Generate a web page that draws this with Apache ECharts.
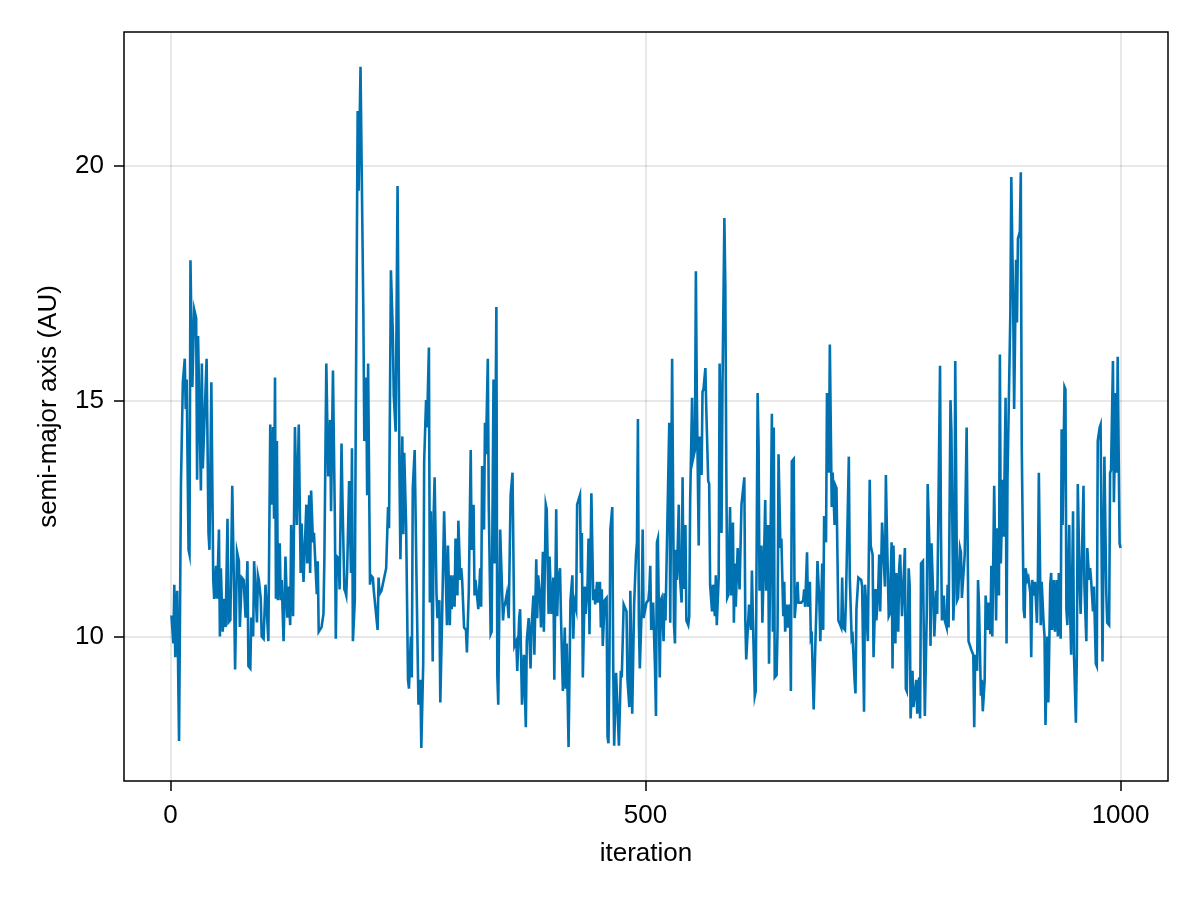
<!DOCTYPE html>
<html>
<head>
<meta charset="utf-8">
<script src="https://cdn.jsdelivr.net/npm/echarts@6/dist/echarts.min.js"></script>
<style>
  html, body { margin: 0; padding: 0; background: #ffffff; }
  #chart { width: 1200px; height: 900px; }
</style>
</head>
<body>
<div id="chart"></div>
<script>
// [iteration, semi-major axis (AU)]
const samples = [
  [1,10.45],[3,9.85],[4,11.1],[5,9.56],[7,10.97],[9,7.78],[10,7.78],[11,13.24],[12,13.28],[13,15.4],
  [15,15.9],[16,14.83],[17,15.46],[19,11.84],[20,11.74],[21,17.99],[23,15.3],[24,15.27],[25,16.94],[27,16.76],
  [28,13.33],[29,16.38],[31,16.38],[32,13.1],[33,15.8],[34,13.57],[38,15.9],[40,12.2],[41,11.84],[43,15.4],
  [45,11.2],[46,10.8],[48,11.5],[49,10.8],[51,12.27],[52,10.0],[53,11.45],[55,10.1],[56,10.8],[58,10.2],
  [60,12.5],[61,10.3],[63,10.35],[65,13.2],[67,10.8],[68,9.3],[70,11.8],[72,11.6],[73,10.2],[75,11.25],
  [77,11.2],[79,10.4],[81,11.6],[82,9.37],[84,9.32],[85,10.4],[87,10.0],[88,11.6],[90,11.6],[91,10.3],
  [92,11.3],[93,11.2],[95,10.8],[96,10.0],[98,9.95],[100,11.1],[102,11.1],[103,9.9],
  [105,14.5],[106,12.8],[108,14.45],[109,12.5],[110,15.5],[111,10.8],[112,14.15],[113,10.77],[115,11.98],[116,10.77],
  [117,11.2],[119,9.9],[120,10.7],[121,11.7],[123,10.4],[124,11.06],[126,10.24],[127,12.37],[129,10.43],[131,14.45],
  [133,12.37],[134,12.37],[135,14.5],[137,11.35],[138,12.4],[139,12.4],[140,11.16],[143,12.8],[144,11.55],[146,13.0],
  [147,11.35],[148,13.1],[150,12.0],[151,12.2],[153,12.2],[154,10.9],[155,11.6],[156,10.1],[158,10.1],[159,10.2],
  [161,10.48],[162,11.7],[164,15.8],[166,13.4],[168,14.6],[169,12.66],[171,15.65],[173,12.5],[174,9.95],[175,11.7],
  [177,11.65],[178,11.0],[180,14.1],[181,12.9],[183,11.0],[184,10.95],[185,10.87],[186,11.45],[188,13.3],[190,11.35],
  [191,14.0],[192,9.9],[194,10.77],[195,14.54],[197,21.16],[198,19.47],[200,22.1],
  [203,16.86],[204,14.15],[206,15.5],[207,13.0],[208,15.8],[210,11.1],[211,11.3],[213,11.25],[214,10.97],[216,11.0],
  [218,10.14],[219,11.25],[220,10.9],[222,10.97],[223,11.06],[225,11.1],[227,11.45],[229,12.75],[230,12.3],[232,17.78],
  [234,16.47],[235,15.12],[237,14.35],[238,14.35],[239,19.57],[241,13.5],[242,11.64],[244,14.25],[245,12.17],[246,13.9],
  [248,12.37],[250,9.08],[251,8.89],[253,10.0],[254,9.13],[255,13.14],[257,13.96],[259,11.16],[261,8.55],[263,9.08],
  [264,7.63],[266,9.42],[267,13.72],[269,15.02],[270,14.44],[272,16.14],[273,10.72],[274,12.66],[276,9.47],[277,12.6],
  [278,13.38],[280,10.9],[281,10.39],[283,10.77],[284,8.6],[286,10.53],[288,12.66],[290,12.66],[291,10.24],[292,11.93],
  [294,10.24],[295,11.3],[296,10.58],[298,11.3],[299,10.63],[300,12.08],[302,10.87],[303,12.46],[305,11.2],[306,11.45],
  [307,11.2],[309,10.19],[311,10.14],[312,9.66],[314,10.97],
  [316,13.96],[317,11.84],[319,12.8],[320,10.87],[321,11.2],[323,11.2],[324,10.58],[326,11.45],[327,10.63],[328,13.62],
  [330,12.27],[331,14.54],[332,13.87],[334,15.9],[335,12.8],[337,10.05],[338,10.1],[340,15.46],[341,11.55],[343,17.0],
  [344,9.18],[345,8.55],[347,12.27],[348,12.3],[350,10.34],[351,10.63],[352,10.68],[354,10.9],[356,10.39],[358,13.0],
  [360,13.48],[362,9.8],[364,9.9],[365,9.27],[367,10.39],[368,10.58],[370,8.55],[372,9.61],[374,8.07],[375,9.9],
  [377,10.39],[379,9.32],[380,10.2],[382,10.87],[383,9.61],[385,11.64],[386,10.39],[387,11.3],[389,10.82],[390,10.19],
  [392,11.8],[393,10.1],[395,12.8],[396,12.7],[398,10.48],[399,11.7],[401,10.48],[403,11.25],[404,9.08],[406,12.7],
  [407,10.43],[408,11.16],[410,11.45],[411,10.43],[413,8.84],[415,10.19],[416,8.89],[417,9.85],[419,7.65],
  [421,10.77],[423,11.3],[424,9.95],[425,10.77],[427,10.58],[428,12.8],[430,12.8],[431,13.0],[432,11.35],[433,12.2],
  [434,9.13],[436,11.06],[437,10.48],[439,11.1],[440,12.08],[441,10.05],[443,13.04],[445,10.77],[446,11.0],[447,10.68],
  [449,11.16],[450,10.72],[452,11.16],[453,10.19],[454,11.0],[455,9.8],[457,10.77],[459,10.82],[460,7.87],[461,7.73],
  [462,9.47],[463,12.27],[465,12.75],[466,9.37],[467,7.68],[469,9.23],[471,9.27],[472,7.68],[474,9.27],[475,9.13],
  [477,10.68],[478,10.72],[480,10.53],[481,9.08],[483,8.5],[484,10.97],[486,8.36],[487,8.36],[488,10.68],[490,11.74],
  [491,12.0],[492,14.62],[493,10.29],[494,9.32],[496,10.63],[497,12.27],[498,10.39],[500,10.43],[501,10.72],[503,10.77],
  [504,11.0],[505,11.5],[506,10.14],[508,10.72],[510,9.32],[511,8.31],[512,12.0],[513,12.08],[515,9.13],[516,10.77],
  [517,10.82],[519,9.9],[520,10.92],[521,10.34],[522,10.34],
  [525,14.54],[526,10.29],[528,15.9],[530,10.24],[531,9.85],[532,11.84],[533,11.2],[535,12.8],[536,11.35],[538,10.72],
  [539,13.38],[540,11.01],[542,12.37],[543,10.34],[545,10.24],[546,10.43],[547,12.9],[549,15.07],[550,13.77],[552,13.96],
  [553,17.76],[554,15.12],[556,11.93],[557,14.25],[559,13.43],[560,15.2],[561,15.25],[563,15.7],[564,14.8],[566,13.3],
  [567,13.24],[568,11.1],[570,10.53],[571,11.1],[573,10.43],[574,11.3],[575,10.24],[577,11.25],[578,15.8],[580,12.2],
  [581,15.3],[583,18.89],[584,17.44],[585,13.67],[586,10.82],[587,10.87],[589,12.75],[590,10.87],[592,12.42],[593,10.29],
  [594,11.55],[595,10.63],[597,11.88],[598,11.88],[599,11.0],[601,12.8],[602,12.8],[604,13.38],[605,10.39],[606,9.51],
  [608,9.51],[609,10.68],[611,10.14],[612,11.4],[613,10.39],[615,8.74],[616,8.84],[618,15.17],[619,14.06],[620,10.97],
  [622,11.93],[623,10.29],[625,11.93],[626,12.9],[627,10.97],[629,12.37],[630,9.42],
  [632,12.8],[633,14.73],[634,10.1],[635,14.44],[636,9.13],[638,9.18],[639,10.19],[640,13.87],[642,11.88],[643,12.08],
  [645,10.43],[646,11.16],[647,10.1],[649,10.68],[650,10.19],[652,10.68],[653,8.84],[654,13.72],[656,13.77],[657,10.39],
  [659,10.43],[660,11.16],[661,10.72],[663,10.68],[664,10.72],[666,10.77],[667,11.0],[668,10.63],[670,11.79],[671,10.63],
  [673,11.16],[674,9.95],[675,10.0],[677,8.45],[679,10.0],[680,10.68],[681,11.6],[683,10.72],[684,9.9],[686,11.55],
  [687,10.14],[688,12.56],[690,12.0],[691,15.17],[693,13.48],[694,16.2],[696,12.75],[697,13.48],[699,12.37],[700,13.2],
  [701,13.15],[703,10.34],[704,10.29],[706,10.19],[707,11.25],[708,10.19],[710,10.14],[711,10.82],[713,12.8],[714,13.82],
  [715,11.25],[717,9.95],[718,10.0],[720,9.08],[721,8.79],[722,10.58],[724,11.25],[725,11.25],[727,11.2],[728,11.06],
  [730,8.4],[731,11.1],[732,10.77],[734,9.9],
  [736,13.33],[737,11.93],[739,11.74],[740,9.56],[742,11.01],[743,10.34],[745,11.06],[746,11.74],[747,10.53],[749,12.42],
  [750,12.42],[752,11.06],[753,13.43],[754,12.3],[756,10.43],[757,10.48],[759,12.0],[760,9.32],[761,11.93],[763,9.85],
  [764,11.35],[766,10.1],[767,11.45],[768,11.74],[770,10.43],[771,10.87],[773,11.88],[774,8.89],[775,8.84],[777,11.45],
  [778,11.1],[779,8.26],[781,9.27],[782,8.5],[784,8.5],[785,9.08],[786,8.36],[788,9.13],[789,8.26],[790,11.55],
  [792,11.6],[793,9.9],[794,8.31],[796,10.48],[797,13.24],[799,11.79],[800,9.8],[801,11.98],[803,10.77],[804,10.0],
  [806,10.97],[807,10.48],[808,12.2],[810,15.75],[811,12.17],[812,10.34],[814,10.87],[815,10.34],[817,10.19],[818,11.1],
  [819,10.19],[821,15.02],[822,14.35],[824,10.34],[825,10.92],[826,15.85],[828,10.77],[829,10.82],[831,11.88],[832,11.79],
  [833,10.82],[835,10.82],[836,11.74],
  [838,14.44],[839,14.4],[840,9.9],[842,9.9],[843,9.71],[845,9.61],[846,8.07],[847,9.61],[849,9.27],[850,11.2],
  [851,10.68],[853,8.74],[854,9.08],[855,8.41],[857,9.08],[858,10.87],[860,10.14],[861,10.72],[863,10.05],[864,11.5],
  [865,10.0],[867,13.2],[868,13.24],[869,10.34],[870,12.3],[872,10.87],[873,15.99],[874,11.55],[876,13.33],[877,12.12],
  [879,15.07],[880,9.85],[881,13.33],[883,13.33],[884,16.86],[885,19.76],[887,17.05],[888,14.83],[890,18.0],[891,16.67],
  [892,18.45],[894,18.6],[895,19.86],[896,14.06],[898,10.58],[899,10.39],[900,11.45],[902,11.2],[903,11.25],[905,10.92],
  [906,9.56],[907,11.2],[909,10.87],[910,11.16],[912,10.29],[913,11.2],[914,13.48],[916,10.24],[917,11.16],[919,10.29],
  [920,10.0],[921,8.12],[923,10.0],[924,8.6],[926,11.1],[927,11.35],[928,10.14],[930,11.2],[931,10.1],[933,11.2],
  [934,10.0],[935,11.35],[937,9.95],
  [938,14.4],[939,12.37],[941,15.3],[942,15.25],[943,10.58],[944,10.24],[946,12.37],[947,10.43],[948,9.61],[950,12.66],
  [951,9.61],[953,8.17],[954,9.61],[955,13.24],[957,11.06],[958,10.48],[960,10.48],[961,13.2],[962,11.06],[964,9.9],
  [965,11.88],[967,11.2],[968,11.45],[969,11.2],[971,10.53],[972,11.06],[974,9.42],[975,9.37],[976,14.15],[978,14.44],
  [979,14.5],[981,9.47],[982,9.47],[983,13.82],[985,10.92],[986,10.29],[988,10.24],[989,13.48],[990,13.53],[992,15.85],
  [993,12.85],[995,15.17],[996,13.48],[997,15.94],[999,11.98],[1000,11.88]
];

const xTicks = [0, 500, 1000];
const yTicks = [10, 15, 20];
const xLabel = 'iteration';
const yLabel = 'semi-major axis (AU)';

const FONT = 'Liberation Sans, Arial, sans-serif';
const chart = echarts.init(document.getElementById('chart'), null, { renderer: 'canvas' });

chart.setOption({
  animation: false,
  backgroundColor: '#ffffff',
  grid: {
    left: 124, right: 32, top: 32, bottom: 119,
    show: true, borderColor: '#000000', borderWidth: 1.5, backgroundColor: 'transparent'
  },
  xAxis: {
    type: 'value',
    min: -48.95, max: 1049.95,
    name: xLabel,
    nameLocation: 'middle',
    nameGap: 60,
    nameTextStyle: { fontFamily: FONT, fontSize: 26, color: '#000' },
    axisLine: { show: false, onZero: false },
    axisTick: { show: true, inside: false, length: 10, customValues: xTicks, lineStyle: { color: '#000', width: 1.5 } },
    axisLabel: { customValues: xTicks, margin: 22, fontFamily: FONT, fontSize: 26, color: '#000',
                 formatter: v => String(v) },
    splitLine: { show: false }
  },
  yAxis: {
    type: 'value',
    min: 6.93, max: 22.84,
    name: yLabel,
    nameLocation: 'middle',
    nameGap: 62,
    nameRotate: 90,
    nameTextStyle: { fontFamily: FONT, fontSize: 26, color: '#000' },
    axisLine: { show: false, onZero: false },
    axisTick: { show: true, inside: false, length: 10, customValues: yTicks, lineStyle: { color: '#000', width: 1.5 } },
    axisLabel: { customValues: yTicks, margin: 20, fontFamily: FONT, fontSize: 26, color: '#000',
                 formatter: v => String(v) },
    splitLine: { show: false }
  },
  series: [
    {
      type: 'line',
      data: samples,
      showSymbol: false,
      symbol: 'none',
      sampling: null,
      lineStyle: { color: '#0072B2', width: 2.6, join: 'miter' },
      itemStyle: { color: '#0072B2' },
      z: 3,
      markLine: {
        silent: true,
        symbol: ['none', 'none'],
        label: { show: false },
        lineStyle: { color: 'rgba(0,0,0,0.12)', width: 1.5, type: 'solid' },
        z: 1,
        data: xTicks.map(v => ({ xAxis: v })).concat(yTicks.map(v => ({ yAxis: v })))
      }
    }
  ]
});
</script>
</body>
</html>
